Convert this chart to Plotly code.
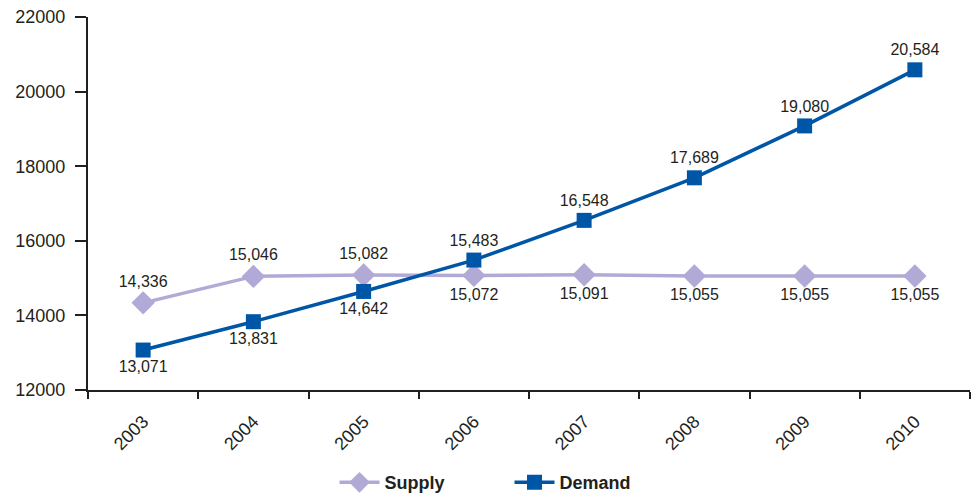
import plotly.graph_objects as go

years = ["2003", "2004", "2005", "2006", "2007", "2008", "2009", "2010"]
supply = [14336, 15046, 15082, 15072, 15091, 15055, 15055, 15055]
demand = [13071, 13831, 14642, 15483, 16548, 17689, 19080, 20584]
supply_pos = ["top center"] * 3 + ["bottom center"] * 5
demand_pos = ["bottom center"] * 3 + ["top center"] * 5

ink = "#231f20"
font_family = "Liberation Sans, Arial, sans-serif"

fig = go.Figure()
fig.add_trace(go.Scatter(
    x=years, y=supply, name="Supply", mode="lines+markers+text",
    line=dict(color="#b1a9d6", width=3.5),
    marker=dict(symbol="diamond", size=18, color="#b1a9d6"),
    text=[f"{v:,}" for v in supply], textposition=supply_pos,
    textfont=dict(size=16, color=ink, family=font_family),
))
fig.add_trace(go.Scatter(
    x=years, y=demand, name="Demand", mode="lines+markers+text",
    line=dict(color="#0056a6", width=3.5),
    marker=dict(symbol="square", size=15, color="#0056a6"),
    text=[f"{v:,}" for v in demand], textposition=demand_pos,
    textfont=dict(size=16, color=ink, family=font_family),
))

fig.update_layout(
    width=977, height=495,
    margin=dict(l=88, r=7, t=17, b=105),
    plot_bgcolor="white", paper_bgcolor="white",
    font=dict(family=font_family, color=ink, size=18),
    showlegend=True,
    legend=dict(orientation="h", x=0.5215, xanchor="center", xref="container",
                y=0.025, yanchor="middle", yref="container",
                font=dict(size=18, color=ink, family=font_family, weight="bold"),
                itemwidth=40, entrywidth=120, entrywidthmode="pixels",
                tracegroupgap=0),
    xaxis=dict(type="category", showline=True, linecolor=ink, linewidth=2,
               ticks="outside", tickson="boundaries", ticklen=7, tickwidth=2, tickcolor=ink,
               tickangle=-45, showgrid=False, tickfont=dict(size=18, color=ink),
               ticklabelstandoff=12, range=[-0.5, 7.5], automargin=False),
    yaxis=dict(range=[12000, 22000], dtick=2000, tickformat="d", showline=True,
               linecolor=ink, linewidth=2, ticks="outside", ticklen=11, tickwidth=2,
               tickcolor=ink, showgrid=False, zeroline=False, ticklabelstandoff=6,
               tickfont=dict(size=18, color=ink), automargin=False),
)

fig.write_html("out.html")
